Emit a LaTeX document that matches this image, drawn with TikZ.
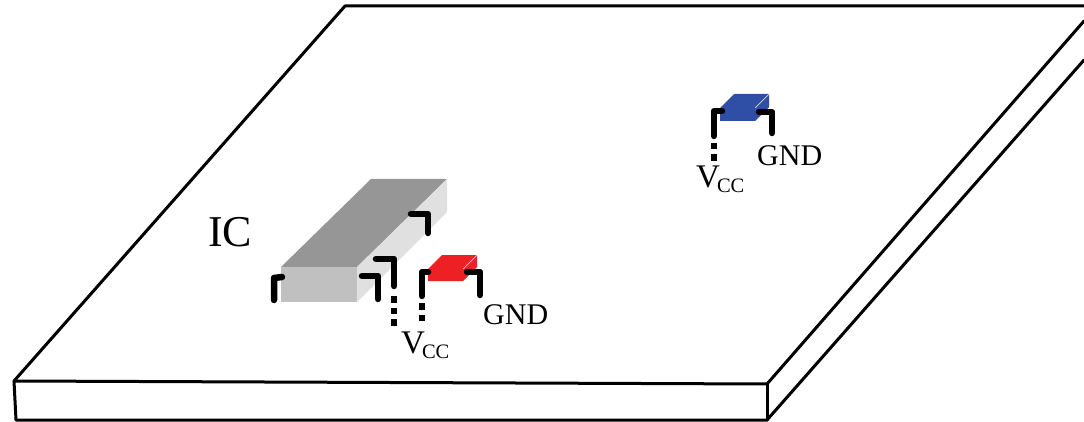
\documentclass[tikz,border=0pt]{standalone}
\usepackage[dvipsnames]{xcolor}
\usepackage{fontspec}
\setmainfont{Liberation Serif}
\definecolor{ictop}{HTML}{969696}
\definecolor{icfront}{HTML}{C0C0C0}
\definecolor{icside}{HTML}{E0E0E0}
\definecolor{redcap}{HTML}{ED2024}
\definecolor{bluecap}{HTML}{2E4FA5}
\newcommand{\vcclabel}{\fontsize{33}{33}\selectfont V\kern-3pt\raisebox{-5pt}{\fontsize{20.5}{20.5}\selectfont CC}}
\tikzset{
  board/.style={draw=black, line width=3pt, line join=round, line cap=round},
  pin/.style={draw=black, line width=6.5pt, line join=round, line cap=round},
  lead/.style={draw=black, line width=6.5pt, dash pattern=on 6.5pt off 5pt},
  capedge/.style={draw=white!70!gray, line width=0.7pt},
  gndtext/.style={anchor=base west, inner sep=0pt, font=\fontsize{30}{30}\selectfont},
  vcctext/.style={anchor=base west, inner sep=0pt}
}

\begin{document}
\begin{tikzpicture}[x=1pt, y=-1pt]
        \useasboundingbox (0,0) rectangle (1084,422);

        \draw[board] (14,381) -- (345,6) -- (1084,6);
        \draw[board] (14,381) -- (767,384) -- (1084,21);
        \draw[board] (14,381) -- (16,420) -- (767,420) -- (1084,60);
        \draw[board] (767,384) -- (767,420);

        \fill[ictop] (281,267) -- (371,179) -- (447,179) -- (357,267) -- cycle;
        \fill[icfront] (281,267) -- (357,267) -- (357,302) -- (281,302) -- cycle;
        \fill[icside] (357,267) -- (447,179) -- (447,212) -- (357,302) -- cycle;

        \fill[redcap] (428,269) -- (442,255) -- (477,255) -- (477,267) -- (463,281) -- (428,281) -- cycle;
        \draw[capedge] (463,269) -- (477,255);
        \fill[bluecap] (720,108) -- (734,94) -- (769,94) -- (769,107) -- (755,121) -- (720,121) -- cycle;
        \draw[capedge] (755,108) -- (769,94);

        \draw[pin] (274,300) -- (274,278) -- (282,277);
        \draw[pin] (362,276) -- (378,276) -- (378,299);
        \draw[pin] (376,259) -- (394,259) -- (394,286);
        \draw[pin] (411,214) -- (428,214) -- (428,233);
        \draw[pin] (422,296) -- (422,272) -- (428,272);
        \draw[pin] (467,272) -- (480,272) -- (480,295);
        \draw[pin] (714,136) -- (714,111) -- (722,111);
        \draw[pin] (759,112) -- (772,112) -- (772,133);

        \draw[lead] (394,296) -- (394,326);
        \draw[lead] (422,303) -- (422,322);
        \draw[lead] (714,143) -- (714,161);

        \node[anchor=base west, inner sep=0pt, font=\fontsize{44}{44}\selectfont] (ic) at (208,247) {IC};
        \node[gndtext] (gndred) at (483,324) {GND};
        \node[gndtext] (gndblue) at (757,166) {GND};
        \node[vcctext] (vccred) at (401,353) {\vcclabel};
        \node[vcctext] (vccblue) at (696,188) {\vcclabel};

\end{tikzpicture}
\end{document}
